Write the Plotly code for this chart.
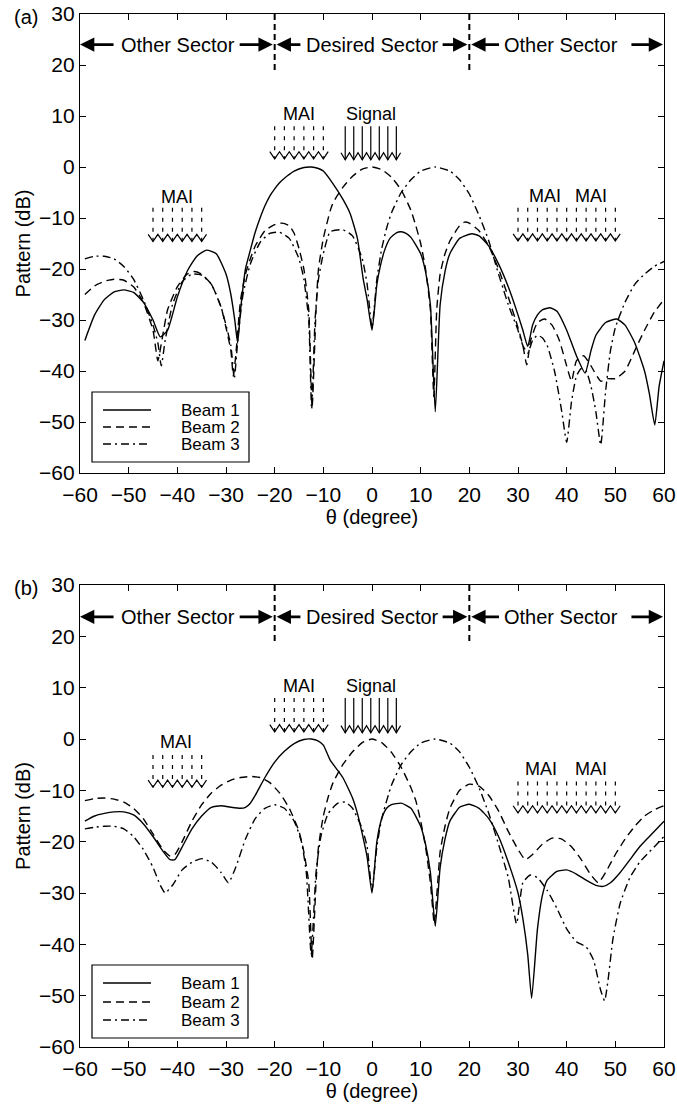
import plotly.graph_objects as go

FONT = "Liberation Sans, Arial, sans-serif"

# ---------------- Panel (a) data ----------------
a1_x = [-59, -57, -55, -53, -51, -49, -47, -45, -43.5, -42, -40, -38, -36, -34, -32, -30, -29, -28.2, -27.6, -27, -26, -25, -24, -23, -22, -21, -20, -19, -18, -16, -14, -12.5, -11, -10, -8, -6, -4.5, -3, -1.8, -1, 0, 1, 1.7, 2.6, 3.7, 5, 6, 7, 8, 10, 11, 12, 13, 14, 15, 16, 18, 20.5, 22, 24, 26, 28, 30, 31, 32, 33, 34, 35, 36.6, 38, 40, 42, 43.8, 45, 46, 48, 50.3, 52, 54, 56, 57, 58.1, 59, 60]
a1_y = [-34, -29, -26, -24.5, -24.1, -24.6, -26.5, -30, -33.3, -32, -25.5, -20.5, -17.5, -16.3, -17, -21, -25, -30, -34.5, -28, -20, -16.3, -12.8, -10, -7.6, -5.7, -4.3, -3.1, -2.2, -0.8, -0.1, 0, -0.3, -0.8, -3.3, -6.3, -9.1, -14, -22, -26, -32, -23, -19.5, -16.3, -14, -12.9, -12.7, -13, -13.8, -17, -20.5, -27, -48, -27, -20.5, -17, -14, -13.1, -13.5, -15.5, -19, -23.5, -29, -32, -35.2, -31, -29, -28, -27.6, -28.3, -32, -37, -40.4, -36, -33, -30.5, -29.8, -31, -34.5, -40, -44.5, -50.6, -43, -38]

a2_x = [-59, -57, -55, -53, -51, -49, -47, -45, -44, -43, -42, -40, -38, -36.5, -35, -33, -31, -30, -29, -28.5, -28, -27, -26, -25, -24, -22, -20, -18.5, -17, -16, -15, -14, -13, -12.3, -11.5, -11, -10, -8.6, -8, -6, -4, -2, 0, 2, 4, 6, 8, 9, 10, 11, 12, 12.7, 13.3, 14, 15, 16, 18, 19, 20, 22, 24, 26, 28, 30, 31, 31.8, 32.6, 34, 35.5, 37, 38.5, 40, 41, 42, 43.5, 45, 47, 48.5, 50, 52, 54, 56, 58, 60]
a2_y = [-25, -23.3, -22.4, -22, -22.2, -23.5, -26.5, -32, -38, -33, -28, -23.5, -21, -20.5, -21, -23, -27.5, -31.5, -36, -41, -37, -26, -21, -18, -15.5, -12.5, -11.3, -11, -11.5, -13, -16, -20, -28, -47, -28, -20, -14, -8.6, -7, -4, -1.8, -0.4, 0, -0.5, -2, -4.5, -8.5, -11.5, -15, -20, -28, -45, -28, -21, -17, -14.5, -11.5, -10.8, -11, -12.5, -15.5, -20, -25.5, -31.5, -35, -38.8, -34, -30.5, -29.8, -31, -34, -39, -42, -38, -37, -39, -42, -41.5, -41.5, -40, -36, -32, -28.5, -26]

a3_x = [-59, -57, -55, -53, -51, -49, -47, -45, -44, -43.3, -42.5, -41, -39, -37, -35, -33, -31, -30, -29, -28.3, -27.5, -26.5, -25, -23, -21, -19, -17, -15, -14, -13, -12.4, -11.7, -11, -10, -8.6, -6, -4, -2, -1, 0, 1, 2, 3, 4, 6, 8, 10, 13, 16, 18, 20, 22, 24, 26, 27, 28, 30, 31, 32, 33, 34, 35, 36, 37.5, 39, 40, 41, 42, 43, 44, 45, 46, 47, 48, 49, 50, 52, 54, 56, 58, 60]
a3_y = [-18, -17.5, -17.5, -18, -19.5, -22, -26, -31, -34.5, -39, -34, -27, -22.5, -21, -21.2, -23, -27.5, -31, -35, -41.5, -33, -25, -19, -14.8, -13, -12.8, -14, -18, -22, -30, -47.5, -30, -22, -17, -12.7, -12.3, -13.5, -18, -23, -31.5, -22, -16, -12, -9, -5, -2.5, -0.8, 0, -0.8, -2.5, -5.3, -9.5, -14.5, -21, -24, -27, -32, -35, -36.5, -34, -33, -33.5, -35, -40, -48, -54, -46, -41, -39.5, -40, -43, -48, -54.5, -44, -36, -31.5, -26.5, -23, -21, -19.5, -18.5]

# ---------------- Panel (b) data ----------------
b1_x = [-59, -57, -55, -53, -51, -49, -47, -45, -43, -41.5, -40.5, -39, -37, -35, -33, -31, -29, -27, -26, -25, -24, -22, -20, -18, -16, -14, -12.5, -11, -10, -8.6, -6, -4, -3, -2, -1, 0, 1, 2, 3, 4, 6, 8, 10, 11, 12, 13, 14, 15, 16, 18, 20, 22, 24, 26, 28, 30, 31, 32, 32.8, 34, 35, 36, 38, 40, 42, 44, 46, 47.5, 49, 51, 53, 55, 57, 60]
b1_y = [-16, -15, -14.5, -14.2, -14.2, -14.8, -16.5, -19, -21.8, -23.5, -23.5, -21, -17.5, -15, -13.3, -13, -13.3, -13.5, -13.3, -12.5, -11, -7.5, -4.5, -2.4, -0.9, -0.1, 0, -0.4, -1.2, -4.1, -7.5, -11.5, -14.5, -18.5, -23, -30, -20, -15.5, -13.5, -12.8, -12.5, -13.5, -17, -20.5, -26, -36.5, -25, -19.5, -16, -13.3, -12.7, -13.5, -15.5, -19, -24, -30, -35, -42, -50.5, -37, -30.5, -27.5, -25.8, -25.5, -26.3, -27.5, -28.5, -28.7, -28, -26, -23.5, -21, -19, -16]

b2_x = [-59, -57, -55, -53, -51, -49, -47, -45, -43, -41.5, -40.5, -39, -37, -35, -33, -31, -29, -27, -25, -23, -21, -19, -17, -15, -14, -13, -12.3, -11.5, -11, -10, -9, -8, -6, -4, -2, 0, 2, 4, 6, 8, 9, 10, 11, 12, 12.8, 13.5, 14, 15, 16, 18, 20, 22, 24, 26, 28, 30, 31.5, 33, 35, 37, 39, 41, 43, 45, 46.5, 48, 50, 52, 54, 56, 58, 60]
b2_y = [-12, -11.6, -11.5, -11.7, -12.3, -13.5, -15.5, -18.5, -21.5, -22.8, -22.5, -20, -16, -12.8, -10.5, -9, -8, -7.5, -7.3, -7.5, -8.5, -10.5, -13.5, -18, -22, -28, -43, -28, -21, -15, -11.3, -8.5, -5, -2.5, -0.7, 0, -0.7, -2.6, -5.5, -9.5, -12, -16, -21, -28, -36, -28, -22, -17, -13.5, -10, -8.8, -9.2, -11, -14, -18, -21.5, -23.5, -22.5, -20.5, -19.3, -19.5, -21, -23.5, -26.5, -28, -26, -22.5, -19.5, -17, -15, -13.8, -13]

b3_x = [-59, -57, -55, -53, -51, -49, -47, -45, -43.5, -42.5, -41, -39, -37, -35, -33, -31, -29.5, -28, -26, -24, -22, -20, -18, -16, -14.5, -13.5, -12.5, -11.5, -10.5, -9, -7, -5.5, -4, -2, -1, 0, 1, 2, 4, 6, 8, 10, 13, 16, 18, 20, 22, 24, 26, 28, 29.7, 31, 32.5, 34, 36, 38, 40, 42, 44, 45.5, 47, 47.8, 48.5, 49.5, 51, 53, 55, 57, 60]
b3_y = [-17.5, -17.2, -17, -17, -17.5, -19, -21.5, -25, -28.5, -30, -28.5, -25.5, -24, -23.3, -24, -26, -28, -25, -19.5, -15.5, -13.5, -12.8, -13.5, -16, -20, -26, -42, -26, -19, -14.5, -12.5, -12.3, -13.5, -17.5, -21, -29.5, -21, -15.5, -9, -5, -2.5, -0.8, 0, -0.8, -2.5, -5.5, -9.5, -14.5, -20.5, -27, -36, -28, -26.5, -27, -29.5, -33, -37, -39.5, -40.5, -43, -49, -51, -47, -39, -32, -27, -24, -22, -19]

# ---------------- annotation data ----------------
beam_names = ["Beam 1", "Beam 2", "Beam 3"]
x_ticks = [-60, -50, -40, -30, -20, -10, 0, 10, 20, 30, 40, 50, 60]
y_ticks = [-60, -50, -40, -30, -20, -10, 0, 10, 20, 30]
sector_bounds = [-20, 20]
mai_left_x = [-45, -43, -41, -39, -37, -35]
mai_mid_x = [-20, -18, -16, -14, -12, -10]
signal_x = [-5.5, -3.75, -2, -0.25, 1.5, 3.25, 5]
mai_right_x = [30, 32, 34, 36, 38, 40, 42, 44, 46, 48, 50]

W, H = 677, 1109
PLOT_L, PLOT_R, PLOT_T, PLOT_B = 80, 664, 14, 1047   # page pixels
M_L, M_T = PLOT_L, PLOT_T
M_R, M_B = W - PLOT_R, H - PLOT_B
PH = PLOT_B - PLOT_T
PW = PLOT_R - PLOT_L

def pfy(py):
    return (PLOT_B - py) / PH

def pfx(px):
    return (px - PLOT_L) / PW

dom_a = [pfy(473), 1.0]
dom_b = [0.0, pfy(585)]

fig = go.Figure()
dashes = ["solid", "8px,5px", "8px,4px,2px,4px"]
panels = [
    ("x", "y", [(a1_x, a1_y), (a2_x, a2_y), (a3_x, a3_y)]),
    ("x2", "y2", [(b1_x, b1_y), (b2_x, b2_y), (b3_x, b3_y)]),
]
for xa, ya, series in panels:
    for (sx, sy), name, dsh in zip(series, beam_names, dashes):
        fig.add_trace(go.Scatter(
            x=sx, y=sy, mode="lines", name=name, xaxis=xa, yaxis=ya, showlegend=False,
            line=dict(color="black", width=1.4, dash=dsh, shape="spline", smoothing=0.5),
            hoverinfo="skip"))

axis_style = dict(
    showline=True, linecolor="black", linewidth=1.4, mirror="ticks",
    ticks="inside", ticklen=6, tickwidth=1.2, tickcolor="black",
    showgrid=False, zeroline=False, automargin=False, ticklabeloverflow="allow",
    tickfont=dict(family=FONT, size=21, color="black"),
)
fig.update_layout(
    template="none",
    width=W, height=H,
    margin=dict(l=M_L, r=M_R, t=M_T, b=M_B),
    paper_bgcolor="white", plot_bgcolor="white",
    font=dict(family=FONT, color="black"),
    showlegend=False,
    xaxis=dict(axis_style, domain=[0, 1], range=[-60, 60], tickvals=x_ticks, anchor="y",
               ticklabelstandoff=3,
               title=dict(text="θ (degree)", font=dict(size=20), standoff=0)),
    yaxis=dict(axis_style, domain=dom_a, range=[-60, 30], tickvals=y_ticks, anchor="x",
               title=dict(text="Pattern (dB)", font=dict(size=20), standoff=2)),
    xaxis2=dict(axis_style, domain=[0, 1], range=[-60, 60], tickvals=x_ticks, anchor="y2",
                ticklabelstandoff=3,
                title=dict(text="θ (degree)", font=dict(size=20), standoff=0)),
    yaxis2=dict(axis_style, domain=dom_b, range=[-60, 30], tickvals=y_ticks, anchor="x2",
                title=dict(text="Pattern (dB)", font=dict(size=20), standoff=2)),
)

annotations = []
shapes = []

def sector_row(xa, ya, yv, pieces):
    for tail, head in pieces:
        annotations.append(dict(x=head, y=yv, ax=tail, ay=yv, xref=xa, yref=ya, axref=xa, ayref=ya,
                                text="", showarrow=True, arrowhead=2, arrowsize=1.1, arrowwidth=2.6,
                                arrowcolor="black", standoff=0, startstandoff=0))

def label(xa, ya, xv, yv, txt, size):
    annotations.append(dict(x=xv, y=yv, xref=xa, yref=ya, text=txt, showarrow=False,
                            font=dict(family=FONT, size=size, color="black"),
                            xanchor="center", yanchor="middle"))

def arrow_group(xa, ya, xs, top, bottom, dash, w):
    hh = 1.4
    for xv in xs:
        shapes.append(dict(type="line", xref=xa, yref=ya, x0=xv, x1=xv, y0=top, y1=bottom,
                           line=dict(color="black", width=1.2, dash=dash)))
    path = ""
    for i, xv in enumerate(xs):
        seg = f"{xv - w},{bottom + hh} L{xv},{bottom} L{xv + w},{bottom + hh}"
        path += ("M" if i == 0 else " L") + seg
    shapes.append(dict(type="path", xref=xa, yref=ya, path=path,
                       line=dict(color="black", width=1.2)))

for xa, ya, yv in [("x", "y", 24), ("x2", "y2", 23.8)]:
    sector_row(xa, ya, yv, [(-52.8, -60), (-27.5, -20.4), (-14.4, -19.6),
                            (14.2, 19.6), (26.4, 20.4), (53, 59.8)])
    label(xa, ya, -39.8, yv, "Other Sector", 20)
    label(xa, ya, 0.1, yv, "Desired Sector", 20)
    label(xa, ya, 38.9, yv, "Other Sector", 20)
    for b in sector_bounds:
        shapes.append(dict(type="line", xref=xa, yref=ya, x0=b, x1=b, y0=30, y1=19,
                           line=dict(color="black", width=2, dash="6px,4px")))

# panel (a) arrow groups
arrow_group("x", "y", mai_left_x, -8, -14.6, "4px,6px", 1.0)
label("x", "y", -40, -5.9, "MAI", 18)
arrow_group("x", "y", mai_mid_x, 8, 1.6, "4px,6px", 1.0)
label("x", "y", -15, 10.3, "MAI", 18)
arrow_group("x", "y", signal_x, 8, 1.4, "solid", 0.875)
label("x", "y", -0.2, 10.3, "Signal", 18)
arrow_group("x", "y", mai_right_x, -8, -14.5, "4px,6px", 1.0)
label("x", "y", 35.5, -5.6, "MAI", 18)
label("x", "y", 45.1, -5.6, "MAI", 18)

# panel (b) arrow groups
arrow_group("x2", "y2", mai_left_x, -3.1, -9.4, "4px,6px", 1.0)
label("x2", "y2", -40.3, -0.5, "MAI", 18)
arrow_group("x2", "y2", mai_mid_x, 8, 1.4, "4px,6px", 1.0)
label("x2", "y2", -15, 10.3, "MAI", 18)
arrow_group("x2", "y2", signal_x, 8, 1.2, "solid", 0.875)
label("x2", "y2", -0.2, 10.3, "Signal", 18)
arrow_group("x2", "y2", mai_right_x, -8.3, -14.4, "4px,6px", 1.0)
label("x2", "y2", 34.7, -5.8, "MAI", 18)
label("x2", "y2", 44.9, -5.8, "MAI", 18)

# legends (one per panel): box, sample lines, labels
legend_boxes = [(92, 249, 392, 462, [410, 427, 444]), (92, 248, 965, 1038, [983, 1002, 1020])]
for x0, x1, y0, y1, rows in legend_boxes:
    shapes.append(dict(type="rect", xref="paper", yref="paper", x0=pfx(x0), x1=pfx(x1),
                       y0=pfy(y1), y1=pfy(y0), line=dict(color="black", width=1.2),
                       fillcolor="white", layer="above"))
    for ry, name, dsh in zip(rows, beam_names, dashes):
        shapes.append(dict(type="line", xref="paper", yref="paper", x0=pfx(103), x1=pfx(151),
                           y0=pfy(ry), y1=pfy(ry), line=dict(color="black", width=1.4, dash=dsh),
                           layer="above"))
        annotations.append(dict(x=pfx(179), y=pfy(ry), xref="paper", yref="paper", text=name,
                                showarrow=False, xanchor="left", yanchor="middle",
                                font=dict(family=FONT, size=17, color="black")))

# panel tags
annotations.append(dict(x=pfx(12), y=pfy(17), xref="paper", yref="paper", text="(a)",
                        showarrow=False, xanchor="left", yanchor="middle",
                        font=dict(family=FONT, size=20, color="black")))
annotations.append(dict(x=pfx(12), y=pfy(588), xref="paper", yref="paper", text="(b)",
                        showarrow=False, xanchor="left", yanchor="middle",
                        font=dict(family=FONT, size=20, color="black")))

fig.update_layout(annotations=annotations, shapes=shapes)
# remove the default page margin so the figure fills the window from its top-left corner
fig.write_html("out.html", config={"displayModeBar": False},
               post_script="document.body.style.margin='0px';")
